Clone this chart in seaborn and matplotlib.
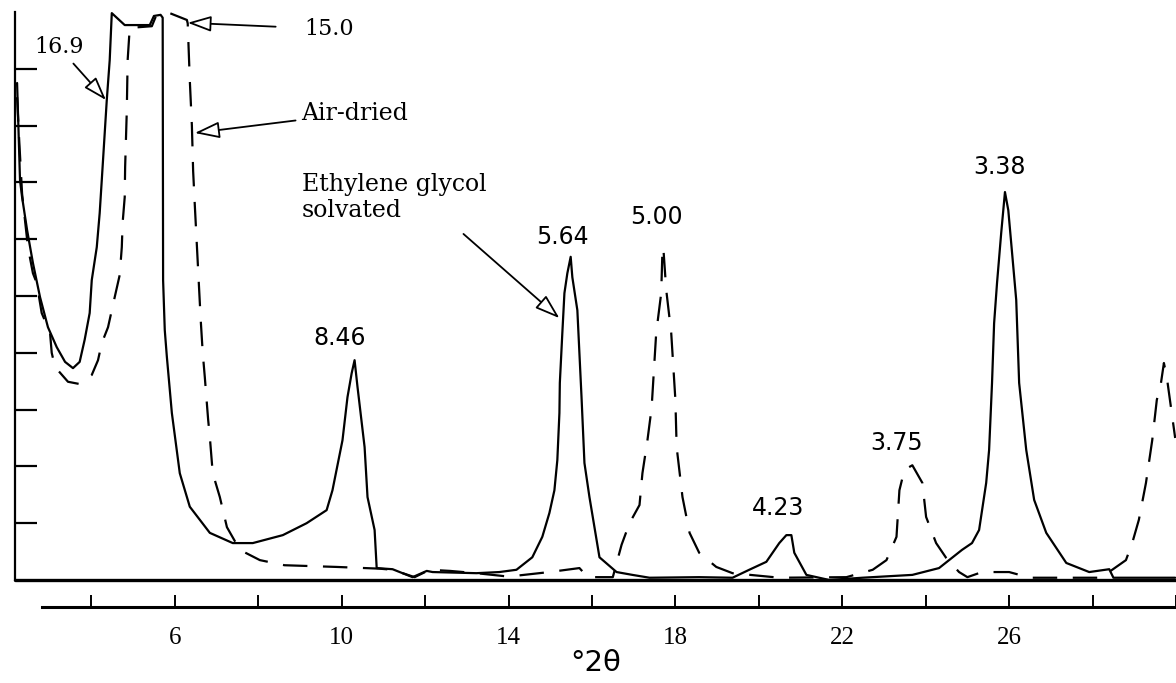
"""XRD trace: air-dried vs ethylene glycol solvated clay sample."""

import matplotlib.pyplot as plt
import pandas as pd
import seaborn as sns

# Ethylene glycol solvated (solid trace), 2-theta in degrees, intensity 0-100
eg_theta = [2.22, 2.29, 2.34, 2.46, 2.60, 2.77, 2.96, 3.17, 3.37, 3.56, 3.72, 3.84,
            3.96, 4.01, 4.13, 4.20, 4.25, 4.37, 4.44, 4.49, 4.80, 5.40, 5.50, 5.66,
            5.71, 5.72, 5.76, 5.81, 5.93, 6.12, 6.36, 6.84, 7.39, 7.87, 8.59, 9.16,
            9.64, 9.78, 10.02, 10.14, 10.24, 10.31, 10.38, 10.55, 10.62, 10.79, 10.84,
            11.22, 11.70, 12.04, 12.18, 13.23, 13.78, 14.19, 14.57, 14.81, 14.98, 15.10,
            15.17, 15.22, 15.23, 15.29, 15.34, 15.41, 15.49, 15.53, 15.65, 15.75, 15.82,
            15.94, 16.18, 16.59, 16.97, 17.38, 18.57, 19.37, 19.77, 20.18, 20.49, 20.66,
            20.78, 20.85, 21.14, 21.69, 22.48, 23.68, 24.32, 24.87, 25.11, 25.28, 25.45,
            25.52, 25.59, 25.64, 25.71, 25.81, 25.90, 25.98, 26.05, 26.17, 26.24, 26.41,
            26.60, 26.89, 27.37, 27.92, 28.40, 28.50, 29.98]
eg_int = [87.5, 70.4, 67.4, 61.6, 55.8, 49.8, 44.5, 41.0, 38.4, 37.3, 38.4, 42.3,
          47.0, 52.8, 58.6, 64.6, 70.4, 84.5, 91.5, 99.8, 97.7, 97.7, 99.3, 99.5,
          99.0, 52.8, 44.0, 39.3, 29.4, 18.8, 12.9, 8.3, 6.5, 6.5, 7.9, 10.0,
          12.3, 15.8, 24.6, 32.2, 36.4, 38.7, 34.0, 23.4, 14.6, 8.8, 2.1,
          1.9, 0.5, 1.6, 1.4, 1.2, 1.4, 1.8, 4.0, 7.6, 11.8, 15.8,
          21.1, 29.4, 34.7, 43.5, 50.5, 54.0, 56.9, 53.3, 47.5, 32.2, 20.6,
          14.6, 4.0, 1.4, 0.9, 0.4, 0.5, 0.4, 1.8, 3.2, 6.5, 7.9,
          7.9, 4.8, 0.9, 0.0, 0.4, 0.9, 2.1, 5.3, 6.5, 8.8, 17.1,
          22.9, 34.7, 45.2, 52.3, 61.1, 68.3, 65.1, 59.3, 49.3, 34.7, 22.9,
          14.1, 8.3, 3.0, 1.4, 1.9, 0.4, 0.4]

# Air-dried (dashed trace)
ad_theta = [2.22, 2.27, 2.34, 2.48, 2.60, 2.69, 2.81, 3.01, 3.05, 3.13, 3.44, 3.72,
            4.01, 4.16, 4.25, 4.40, 4.56, 4.68, 4.73, 4.75, 4.80, 4.81, 4.85, 4.87,
            4.92, 5.45, 5.55, 5.88, 6.29, 6.31, 6.36, 6.41, 6.44, 6.48, 6.55, 6.62,
            6.67, 6.72, 6.80, 6.84, 6.91, 7.08, 7.25, 7.56, 8.04, 8.63, 9.88, 10.90,
            11.22, 11.75, 12.11, 12.60, 13.23, 14.00, 14.98, 15.70, 15.90, 16.50, 16.71,
            16.90, 17.14, 17.21, 17.33, 17.43, 17.54, 17.66, 17.69, 17.71, 17.78, 17.90,
            18.00, 18.03, 18.17, 18.34, 18.57, 18.98, 19.37, 20.50, 22.10, 22.73, 23.06,
            23.30, 23.37, 23.49, 23.68, 23.92, 24.01, 24.25, 24.49, 24.80, 25.00, 25.35,
            26.00, 26.50, 28.20, 28.80, 28.95, 29.11, 29.28, 29.43, 29.54, 29.64, 29.71,
            29.78, 29.98]
ad_int = [85.0, 77.5, 68.0, 58.6, 54.0, 52.3, 47.0, 43.5, 40.0, 37.5, 34.9, 34.5,
          36.1, 38.7, 41.7, 44.5, 49.8, 53.7, 58.6, 62.9, 67.4, 72.7, 82.7, 91.5,
          97.2, 97.5, 99.3, 99.8, 98.6, 98.0, 88.0, 80.0, 72.0, 66.0, 56.0, 46.0,
          40.0, 35.7, 28.2, 25.2, 18.8, 14.6, 9.3, 5.3, 3.5, 2.6, 2.3, 2.0,
          1.8, 0.5, 1.8, 1.6, 1.2, 0.6, 1.4, 2.1, 0.5, 0.5, 6.2,
          10.0, 13.2, 18.8, 24.6, 30.3, 43.5, 50.5, 58.1, 58.6, 51.1, 43.5,
          31.7, 23.4, 14.6, 8.3, 4.8, 2.3, 1.2, 0.4, 0.5, 1.8, 3.5,
          7.6, 15.8, 19.4, 20.2, 17.1, 11.1, 6.5, 3.9, 1.4, 0.5, 1.4,
          1.4, 0.4, 0.4, 3.5, 6.5, 10.6, 17.1, 24.6, 31.7, 34.7, 38.2,
          35.7, 25.0]

# d-spacing labels (Angstrom) and where they sit
peak_labels = ["8.46", "5.64", "5.00", "4.23", "3.75", "3.38"]
peak_label_x = [9.95, 15.29, 17.54, 20.47, 23.29, 25.76]
peak_label_y = [42.6, 60.4, 63.9, 12.7, 24.1, 72.7]

x_ticks = [4, 6, 8, 10, 12, 14, 16, 18, 20, 22, 24, 26, 28, 30]
x_tick_labels = ["", "6", "", "10", "", "14", "", "18", "", "22", "", "26", "", ""]
y_ticks = [10, 20, 30, 40, 50, 60, 70, 80, 90]

df = pd.concat([
    pd.DataFrame({"two_theta": eg_theta, "intensity": eg_int,
                  "treatment": "Ethylene glycol solvated"}),
    pd.DataFrame({"two_theta": ad_theta, "intensity": ad_int,
                  "treatment": "Air-dried"}),
], ignore_index=True)

sns.set_style("white")
plt.rcParams["font.family"] = ["DejaVu Sans"]
plt.rcParams["text.color"] = "black"
plt.rcParams["axes.labelcolor"] = "black"
plt.rcParams["xtick.color"] = "black"
plt.rcParams["ytick.color"] = "black"

fig = plt.figure(figsize=(11.76, 6.83), dpi=100)
ax = fig.add_axes([15 / 1176, 103 / 683, 1161 / 1176, 568 / 683])

sns.lineplot(
    data=df, x="two_theta", y="intensity", style="treatment",
    dashes={"Ethylene glycol solvated": "", "Air-dried": (11, 7)},
    color="black", linewidth=1.6, sort=False, estimator=None,
    legend=False, ax=ax,
)
for line in ax.get_lines():
    line.set_clip_on(False)

# plot baseline, and the 2-theta scale drawn a little below it
ax.axhline(0, color="black", lw=2.4, clip_on=False)
ax.set_xlim(2.17, 30.0)
ax.set_ylim(0, 100)
for side in ["top", "right"]:
    ax.spines[side].set_visible(False)
ax.spines["left"].set_color("black")
ax.spines["left"].set_linewidth(1.6)
ax.spines["bottom"].set_color("black")
ax.spines["bottom"].set_position(("outward", 19.5))
ax.spines["bottom"].set_bounds(2.81, 30.0)
ax.spines["bottom"].set_linewidth(2.2)

ax.set_xticks(x_ticks)
ax.set_xticklabels(x_tick_labels, fontfamily="Liberation Serif", fontsize=18)
ax.tick_params(axis="x", bottom=True, direction="in", length=8.5, width=1.4,
               pad=14, colors="black")
ax.set_yticks(y_ticks)
ax.set_yticklabels([])
ax.tick_params(axis="y", left=True, direction="in", length=15.5, width=1.6,
               colors="black")
ax.set_xlabel("°2θ", fontsize=21, labelpad=0)
ax.set_ylabel("")

arrow = dict(arrowstyle="-|>,head_length=0.9,head_width=0.3", fc="white",
             ec="black", lw=1.3, shrinkA=2, shrinkB=0)
serif = "DejaVu Serif"
ax.annotate("16.9", xy=(4.35, 84.5), xytext=(3.22, 93.8), fontsize=16,
            fontfamily=serif, ha="center", va="center", arrowprops=arrow)
ax.annotate("15.0", xy=(6.31, 98.1), xytext=(9.69, 97.0), fontsize=16,
            fontfamily=serif, ha="center", va="center",
            arrowprops=dict(arrow, shrinkA=18))
ax.annotate("Air-dried", xy=(6.48, 78.7), xytext=(9.04, 82.2), fontsize=17,
            fontfamily=serif, ha="left", va="center", arrowprops=arrow)
ax.annotate("Ethylene glycol\nsolvated", xy=(15.22, 46.1), xytext=(9.04, 67.4),
            fontsize=17, fontfamily=serif, ha="left", va="center",
            linespacing=1.15,
            arrowprops=dict(arrow, relpos=(0.8, 0.0), shrinkA=10))

for label, lx, ly in zip(peak_labels, peak_label_x, peak_label_y):
    ax.text(lx, ly, label, fontsize=17, ha="center", va="center")

plt.savefig("out.png", dpi=100)
print("Saved out.png")
